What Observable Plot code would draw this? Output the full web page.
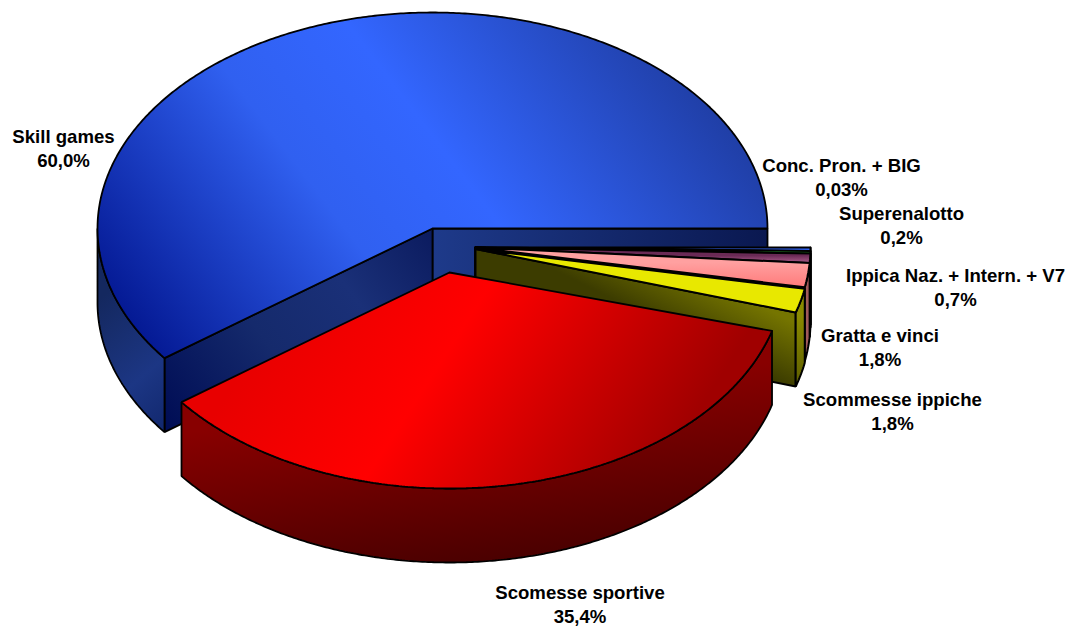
<!DOCTYPE html>
<html><head><meta charset="utf-8">
<script src="https://cdn.jsdelivr.net/npm/d3@7"></script>
<script src="https://cdn.jsdelivr.net/npm/@observablehq/plot@0.6"></script>
<style>html,body{margin:0;padding:0;background:#fff}svg{display:block}</style>
</head><body><div id="chart"></div>
<script>
// Categories, in the order they go round the pie from 0 degrees, clockwise
const categories = ["Conc. Pron. + BIG","Superenalotto","Ippica Naz. + Intern. + V7","Gratta e vinci","Scommesse ippiche","Scomesse sportive","Skill games"];
const printedValues = ["0,03%","0,2%","0,7%","1,8%","1,8%","35,4%","60,0%"];
// Share of the circle each slice occupies as drawn
const drawnShares = [0.25,0.2,0.7,1.8,1.8,35.4,60.0];
// Slice centres on the page (exploded pie)
const centreX = [475,475,475,475,475,449,432];
const centreY = [247,247,247,247,248.5,272,228];
const labelX = [841,901,955,879.5,892,579.5,63];
const labelY = [176,224,285.5,345.5,410,603,147];
const radiusX = 335, radiusY = 216, depth = 74;
const topFills = ["#3366ff","#33cc33","url(#purpleTop)","url(#pinkTop)","#e8e800"];
const sideFills = ["#1a2f80","#1a661a","#4d1a33","#a05a5a","url(#yellowSide)"];
const wallFills = ["#0d1a40","#0d330d","#331122","#804848","url(#oliveWall)"];

const slices = [];
let cum = 0;
categories.forEach((name,i)=>{
  const a0 = cum*3.6, a1 = (cum+drawnShares[i])*3.6; // degrees clockwise from east
  cum += drawnShares[i];
  slices.push({name,i,a0,a1,cx:centreX[i],cy:centreY[i]});
});
const blue = slices[6];
const red = slices[5];
const smallSlices = slices.slice(0,5);
const deg = Math.PI/180;
const rimPoint = (s,a,dz=0)=>[s.cx+radiusX*Math.cos(a*deg), s.cy+radiusY*Math.sin(a*deg)+dz];
const arc = (s,a0,a1,dz=0)=>{ const n=Math.max(2,Math.ceil(Math.abs(a1-a0)*2)); return d3.range(n+1).map(k=>rimPoint(s,a0+(a1-a0)*k/n,dz)); };
const close = p=>[...p,p[0]];
const face = (pts,fill,sw=1.8)=>Plot.line(close(pts),{x:d=>d[0],y:d=>d[1],fill,stroke:"#000",strokeWidth:sw,strokeLinejoin:"miter",curve:"linear"});
const topFace = (s,a0,a1,fill,sw)=>face([[s.cx,s.cy],...arc(s,a0,a1)],fill,sw);
const sideFace = (s,a0,a1,fill,sw)=>face([...arc(s,a0,a1),...arc(s,a1,a0,depth)],fill,sw);
const wallFace = (s,a,fill,sw)=>{const e=rimPoint(s,a);return face([[s.cx,s.cy],e,[e[0],e[1]+depth],[s.cx,s.cy+depth]],fill,sw);};

// The blue slice ends at east; red sits just before it on the screen
const blueStart = 360-drawnShares[6]*3.6-0.87;
const redStart = blueStart-drawnShares[5]*3.6;

const defs = ()=>{
  const s = d3.create("svg:defs");
  const grad = (id,x1,y1,x2,y2,stops)=>{
    const g = s.append("linearGradient").attr("id",id).attr("gradientUnits","userSpaceOnUse")
      .attr("x1",x1).attr("y1",y1).attr("x2",x2).attr("y2",y2);
    stops.forEach(([o,c])=>g.append("stop").attr("offset",o).attr("stop-color",c));
  };
  grad("blueTop",660,20,160,400,[[0,"#1f3da3"],[0.4,"#3366ff"],[0.6,"#3060f0"],[1,"#00128a"]]);
  grad("blueSide",97,300,200,420,[[0,"#14285f"],[0.55,"#1c3684"],[1,"#0f2468"]]);
  grad("navyWall",430,235,170,430,[[0,"#0c1c60"],[0.3,"#1a3078"],[0.6,"#152a6c"],[1,"#000d55"]]);
  grad("navyBack",432,0,767,0,[[0,"#1e3a8a"],[1,"#0a1850"]]);
  grad("redTop",300,280,640,500,[[0,"#e80000"],[0.4,"#ff0000"],[1,"#a00000"]]);
  grad("redSide",450,400,470,565,[[0,"#880000"],[1,"#4a0000"]]);
  grad("oliveWall",790,320,730,440,[[0,"#757500"],[0.45,"#3c3c00"],[1,"#3c3c00"]]);
  grad("yellowSide",0,315,0,387,[[0,"#8a8a00"],[1,"#5e5e00"]]);
  grad("purpleTop",0,255,0,262,[[0,"#6a2a55"],[1,"#a85a88"]]);
  grad("pinkTop",0,262,0,288,[[0,"#ffa0a0"],[1,"#ff7878"]]);
  return s.node();
};

const marks = [defs];
// blue back walls, rim and top
marks.push(wallFace(blue,0,"url(#navyBack)"));
marks.push(wallFace(blue,blueStart,"url(#navyWall)"));
marks.push(sideFace(blue,blueStart,180,"url(#blueSide)"));
marks.push(topFace(blue,blueStart,360,"url(#blueTop)"));
// small slices, one after the other
smallSlices.forEach(s=>{
  marks.push(wallFace(s,s.a1,wallFills[s.i],2));
  marks.push(sideFace(s,s.a0,s.a1,sideFills[s.i],2));
  marks.push(topFace(s,s.a0,s.a1,topFills[s.i],2));
});
// red slice
marks.push(sideFace(red,redStart,blueStart,"url(#redSide)"));
marks.push(topFace(red,redStart,blueStart,"url(#redTop)"));

const labels = categories.map((c,i)=>({t:c+"\n"+printedValues[i],x:labelX[i],y:labelY[i]}));
marks.push(Plot.text(labels,{x:"x",y:"y",text:"t",fontFamily:"Liberation Sans",fontWeight:"bold",fontSize:18.6,lineHeight:1.3,fill:"#000",textAnchor:"middle"}));

const chart = Plot.plot({width:1068,height:626,margin:0,
  x:{domain:[0,1068],range:[0,1068],axis:null},
  y:{domain:[0,626],range:[0,626],axis:null},
  marks});
document.getElementById("chart").appendChild(chart);
</script></body></html>
